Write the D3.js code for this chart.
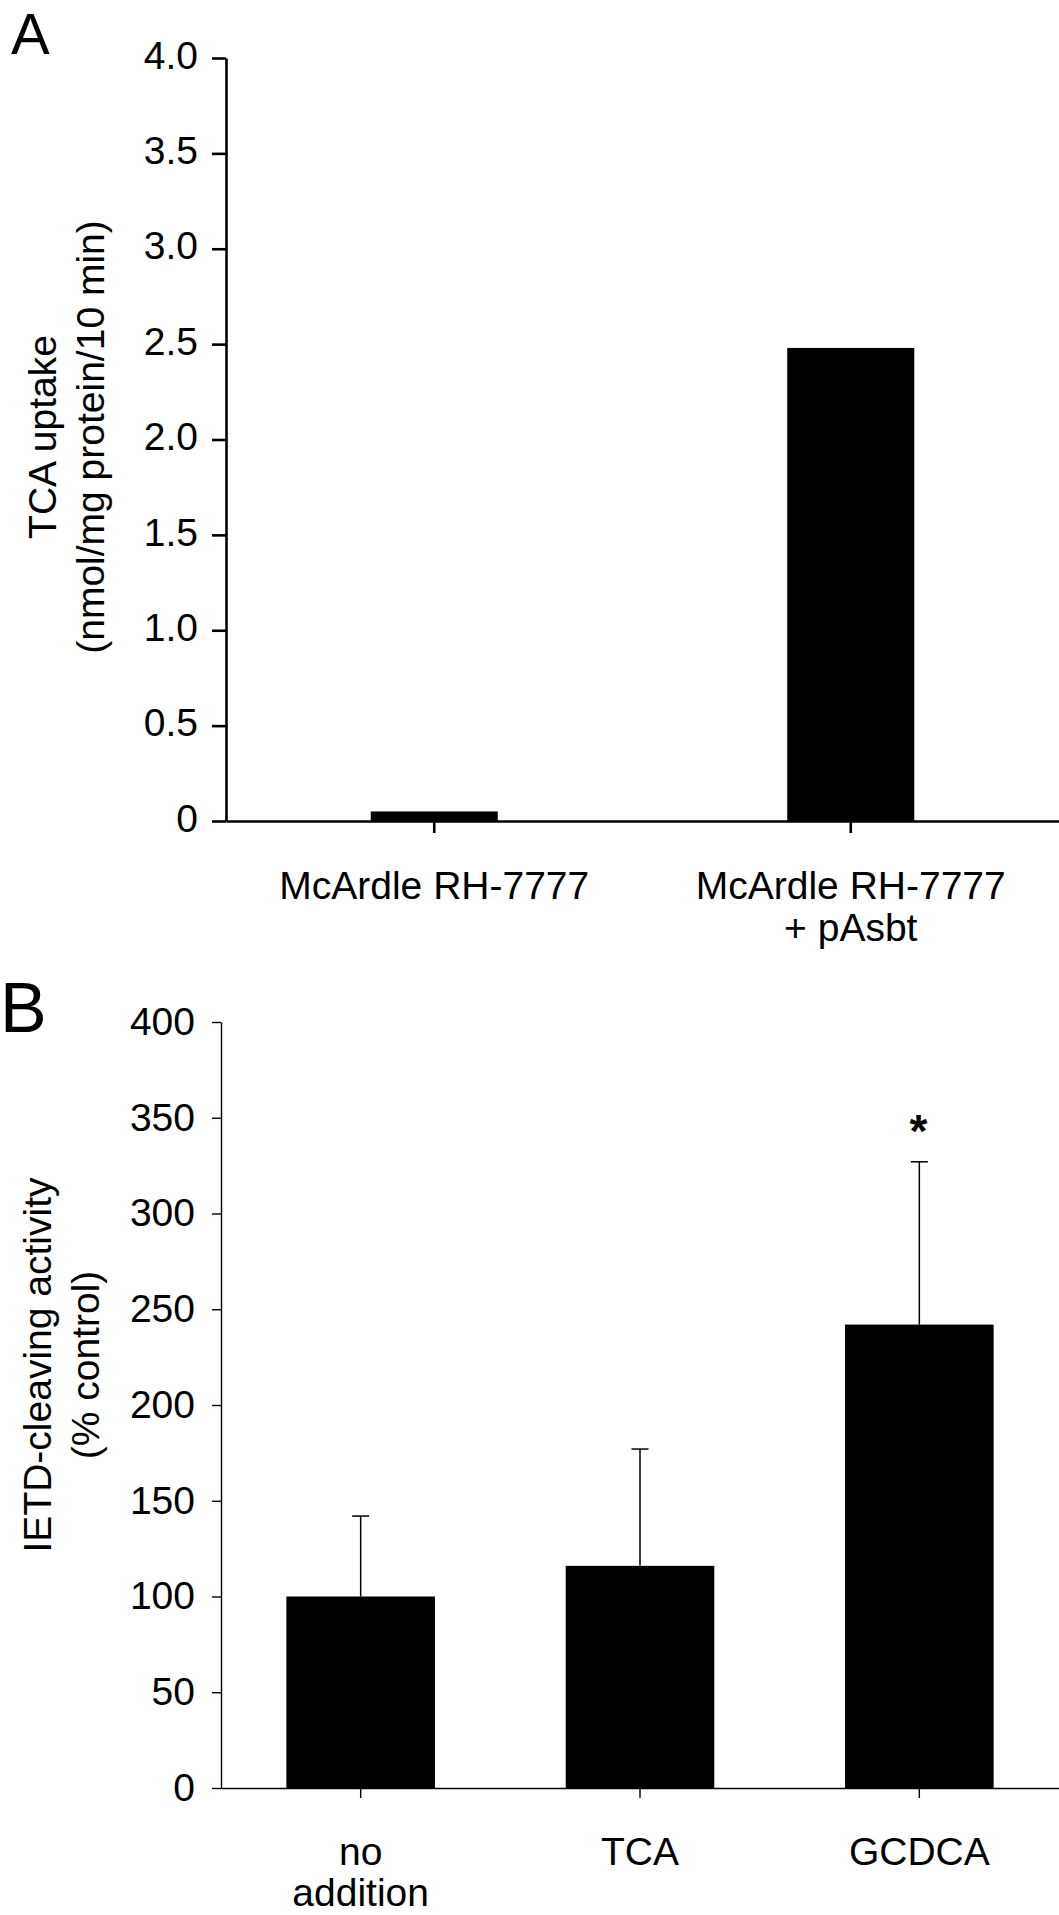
<!DOCTYPE html>
<html>
<head>
<meta charset="utf-8">
<script src="https://cdn.jsdelivr.net/npm/d3@7"></script>
<style>
  body { margin: 0; background: #fff; }
  svg { display: block; font-family: "Liberation Sans", Arial, Helvetica, sans-serif; }
</style>
</head>
<body>
<div id="chart"></div>
<script>
// Panel A: TCA uptake
let categoriesA = ["McArdle RH-7777", "McArdle RH-7777\n+ pAsbt"];
let uptakeA = [0.05, 2.48];
let ticksA = [0, 0.5, 1.0, 1.5, 2.0, 2.5, 3.0, 3.5, 4.0];

// Panel B: IETD-cleaving activity
let categoriesB = ["no\naddition", "TCA", "GCDCA"];
let activityB = [100, 116, 242];
let errorB = [42, 61, 85];
let starB = [false, false, true];
let ticksB = [0, 50, 100, 150, 200, 250, 300, 350, 400];

let svg = d3.select("#chart").append("svg")
  .attr("width", 1059)
  .attr("height", 1915);

svg.append("rect")
  .attr("width", 1059)
  .attr("height", 1915)
  .attr("fill", "#fff");

// ---------- Panel A ----------
let yA = d3.scaleLinear().domain([0, 4]).range([821, 58]);
let xA = d3.scaleBand().domain(categoriesA).range([226, 1059]);

let gA = svg.append("g");

gA.selectAll("rect.bar")
  .data(uptakeA)
  .enter()
  .append("rect")
  .attr("class", "bar")
  .attr("x", function (d, i) {return xA(categoriesA[i]) + xA.bandwidth() * (1 - 0.305) / 2})
  .attr("width", xA.bandwidth() * 0.305)
  .attr("y", function (d) {return yA(d)})
  .attr("height", function (d) {return yA(0) - yA(d)})
  .attr("fill", "#000");

let axisYA = gA.append("g")
  .attr("transform", "translate(226,0)")
  .call(d3.axisLeft(yA)
    .tickValues(ticksA)
    .tickSize(14)
    .tickSizeOuter(0)
    .tickPadding(14)
    .tickFormat(function (d) {return d === 0 ? "0" : d3.format(".1f")(d)}));

let axisXA = gA.append("g")
  .attr("transform", "translate(0,821)")
  .call(d3.axisBottom(xA).tickSize(12).tickSizeOuter(0).tickFormat(""));

[axisYA, axisXA].forEach(function (ax) {
  ax.attr("font-family", null).attr("font-size", 39);
  ax.selectAll("path, line").attr("stroke", "#000").attr("stroke-width", 2.6);
  ax.selectAll("text").attr("fill", "#000");
});
axisYA.selectAll("text").attr("dy", "0.26em");

// category labels
gA.selectAll("text.cat")
  .data(categoriesA)
  .enter()
  .append("text")
  .attr("class", "cat")
  .attr("text-anchor", "middle")
  .attr("font-size", 39)
  .each(function (d) {
    let t = d3.select(this);
    d.split("\n").forEach(function (line, k) {
      t.append("tspan")
        .attr("x", xA(d) + xA.bandwidth() / 2)
        .attr("y", 899 + k * 42)
        .text(line);
    });
  });

// axis title
gA.append("text")
  .attr("transform", "translate(56,437) rotate(-90)")
  .attr("text-anchor", "middle")
  .attr("font-size", 39)
  .text("TCA uptake");
gA.append("text")
  .attr("transform", "translate(104,437) rotate(-90)")
  .attr("text-anchor", "middle")
  .attr("font-size", 39)
  .text("(nmol/mg protein/10 min)");

gA.append("text")
  .attr("x", 11)
  .attr("y", 54)
  .attr("font-size", 58)
  .text("A");

// ---------- Panel B ----------
let yB = d3.scaleLinear().domain([0, 400]).range([1788, 1022]);
let xB = d3.scaleBand().domain(categoriesB).range([221, 1059]);

let gB = svg.append("g");

gB.selectAll("rect.bar")
  .data(activityB)
  .enter()
  .append("rect")
  .attr("class", "bar")
  .attr("x", function (d, i) {return xB(categoriesB[i]) + xB.bandwidth() * (1 - 0.532) / 2})
  .attr("width", xB.bandwidth() * 0.532)
  .attr("y", function (d) {return yB(d)})
  .attr("height", function (d) {return yB(0) - yB(d)})
  .attr("fill", "#000");

// error bars (upper only)
let cx = function (i) {return xB(categoriesB[i]) + xB.bandwidth() / 2};
gB.selectAll("line.err")
  .data(activityB)
  .enter()
  .append("line")
  .attr("class", "err")
  .attr("x1", function (d, i) {return cx(i)})
  .attr("x2", function (d, i) {return cx(i)})
  .attr("y1", function (d) {return yB(d)})
  .attr("y2", function (d, i) {return yB(d + errorB[i])})
  .attr("stroke", "#000")
  .attr("stroke-width", 1.5);
gB.selectAll("line.cap")
  .data(activityB)
  .enter()
  .append("line")
  .attr("class", "cap")
  .attr("x1", function (d, i) {return cx(i) - 8.5})
  .attr("x2", function (d, i) {return cx(i) + 8.5})
  .attr("y1", function (d, i) {return yB(d + errorB[i])})
  .attr("y2", function (d, i) {return yB(d + errorB[i])})
  .attr("stroke", "#000")
  .attr("stroke-width", 1.5);

gB.selectAll("text.star")
  .data(activityB.filter(function (d, i) {return starB[i]}))
  .enter()
  .append("text")
  .attr("class", "star")
  .attr("text-anchor", "middle")
  .attr("font-size", 46)
  .attr("font-weight", "bold")
  .attr("x", function (d) {return cx(activityB.indexOf(d)) - 1})
  .attr("y", function (d) {let i = activityB.indexOf(d); return yB(d + errorB[i]) - 15})
  .text("*");

let axisYB = gB.append("g")
  .attr("transform", "translate(221,0)")
  .call(d3.axisLeft(yB)
    .tickValues(ticksB)
    .tickSize(9)
    .tickSizeOuter(0)
    .tickPadding(17));

let axisXB = gB.append("g")
  .attr("transform", "translate(0,1788)")
  .call(d3.axisBottom(xB).tickSize(10).tickSizeOuter(0).tickFormat(""));

[axisYB, axisXB].forEach(function (ax) {
  ax.attr("font-family", null).attr("font-size", 39);
  ax.selectAll("path, line").attr("stroke", "#000").attr("stroke-width", 1.4);
  ax.selectAll("text").attr("fill", "#000");
});

gB.selectAll("text.cat")
  .data(categoriesB)
  .enter()
  .append("text")
  .attr("class", "cat")
  .attr("text-anchor", "middle")
  .attr("font-size", 39)
  .each(function (d) {
    let t = d3.select(this);
    d.split("\n").forEach(function (line, k) {
      t.append("tspan")
        .attr("x", xB(d) + xB.bandwidth() / 2)
        .attr("y", 1865 + k * 41)
        .text(line);
    });
  });

gB.append("text")
  .attr("transform", "translate(51,1365) rotate(-90)")
  .attr("text-anchor", "middle")
  .attr("font-size", 39)
  .text("IETD-cleaving activity");
gB.append("text")
  .attr("transform", "translate(99,1365) rotate(-90)")
  .attr("text-anchor", "middle")
  .attr("font-size", 39)
  .text("(% control)");

gB.append("text")
  .attr("x", 0)
  .attr("y", 1032)
  .attr("font-size", 70)
  .text("B");
</script>
</body>
</html>
